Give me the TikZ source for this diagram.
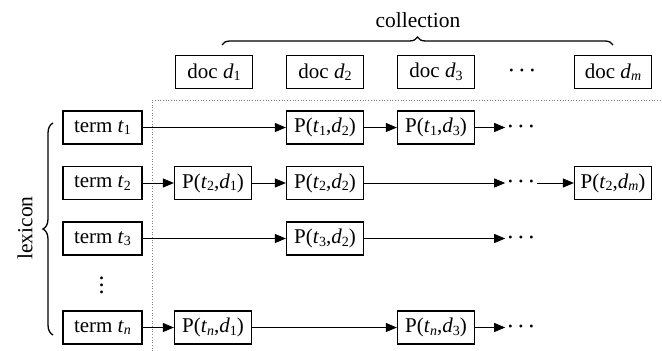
\documentclass[tikz,border=0pt]{standalone}
\usepackage{fontspec}
\setmainfont{Liberation Serif}
\usetikzlibrary{arrows.meta,decorations.pathreplacing}
\newcommand\ital[2]{\textit{#1}\raisebox{-0.12em}{\fontsize{14}{14}\selectfont #2}}
\newcommand\hdots{\raisebox{-0.15em}{\textbullet\hspace{6.3pt}\textbullet\hspace{6.3pt}\textbullet}}
\newcommand\vdotsrow{\textbullet\hspace{2.6pt}\textbullet\hspace{2.6pt}\textbullet}
\begin{document}
\begin{tikzpicture}[x=1pt,y=-1pt,
  box/.style={draw,line width=1.2pt,minimum width=77pt,minimum height=33pt,inner sep=0pt,font=\fontsize{21}{25}\selectfont},
  termbox/.style={box,minimum width=79pt},
  arr/.style={-{Triangle[length=11pt,width=9pt]},line width=0.9pt},
  lbl/.style={font=\fontsize{21.5}{25}\selectfont},
  dotsnode/.style={inner sep=3pt,font=\fontsize{12}{12}\selectfont},
  vdotsnode/.style={inner sep=0pt,rotate=90,font=\fontsize{12}{12}\selectfont},
  sep/.style={draw=gray,dotted,line width=0.7pt},
  brc/.style={decorate,line width=1.3pt}]
\useasboundingbox (0,0) rectangle (662,351);

% separators
\coordinate (corner) at (152,100);
\coordinate (sepE) at (662,100);
\coordinate (sepS) at (152,351);
\draw[sep] (sepS) -- (corner) -- (sepE);

% collection
\node[box] (d1) at (214,72) {doc \ital{d}{1}};
\node[box] (d2) at (325,72) {doc \ital{d}{2}};
\node[box] (d3) at (436,72) {doc \ital{d}{3}};
\node[dotsnode] (dd) at (522,72) {\hdots};
\node[box] (dm) at (613,72) {doc \ital{d}{\textit{m}}};
\coordinate (cbL) at (222,45);
\coordinate (cbR) at (613,45);
\draw[brc,decoration={brace,amplitude=8pt}] (cbL) -- (cbR);
\node[lbl] (coll) at (418,20) {collection};

% lexicon
\node[termbox] (t1) at (102.5,127.5) {term \ital{t}{1}};
\node[termbox] (t2) at (102.5,183) {term \ital{t}{2}};
\node[termbox] (t3) at (102.5,238.5) {term \ital{t}{3}};
\node[vdotsnode] (tv) at (103,285.5) {\vdotsrow};
\node[termbox] (tn) at (102.5,327.5) {term \ital{t}{\textit{n}}};
\coordinate (lbB) at (53,335);
\coordinate (lbT) at (53,123);
\draw[brc,decoration={brace,amplitude=10pt}] (lbB) -- (lbT);
\node[lbl,rotate=90] (lex) at (25,228) {lexicon};

% row 1
\node[box] (p12) at (325,127.5) {P(\ital{t}{1},\ital{d}{2})};
\node[box] (p13) at (436,127.5) {P(\ital{t}{1},\ital{d}{3})};
\node[dotsnode] (r1) at (521,127.5) {\hdots};
\draw[arr] (t1) -- (p12);
\draw[arr] (p12) -- (p13);
\draw[arr] (p13) -- (r1);

% row 2
\node[box] (p21) at (213,183) {P(\ital{t}{2},\ital{d}{1})};
\node[box] (p22) at (325,183) {P(\ital{t}{2},\ital{d}{2})};
\node[dotsnode] (r2) at (521,183) {\hdots};
\node[box] (p2m) at (613,183) {P(\ital{t}{2},\ital{d}{\textit{m}})};
\draw[arr] (t2) -- (p21);
\draw[arr] (p21) -- (p22);
\draw[arr] (p22) -- (r2);
\draw[arr] (r2) -- (p2m);

% row 3
\node[box] (p32) at (325,238.5) {P(\ital{t}{3},\ital{d}{2})};
\node[dotsnode] (r3) at (521,238.5) {\hdots};
\draw[arr] (t3) -- (p32);
\draw[arr] (p32) -- (r3);

% row n
\node[box] (pn1) at (213,327.5) {P(\ital{t}{\textit{n}},\ital{d}{1})};
\node[box] (pn3) at (436,327.5) {P(\ital{t}{\textit{n}},\ital{d}{3})};
\node[dotsnode] (rn) at (521,327.5) {\hdots};
\draw[arr] (tn) -- (pn1);
\draw[arr] (pn1) -- (pn3);
\draw[arr] (pn3) -- (rn);
\end{tikzpicture}
\end{document}
